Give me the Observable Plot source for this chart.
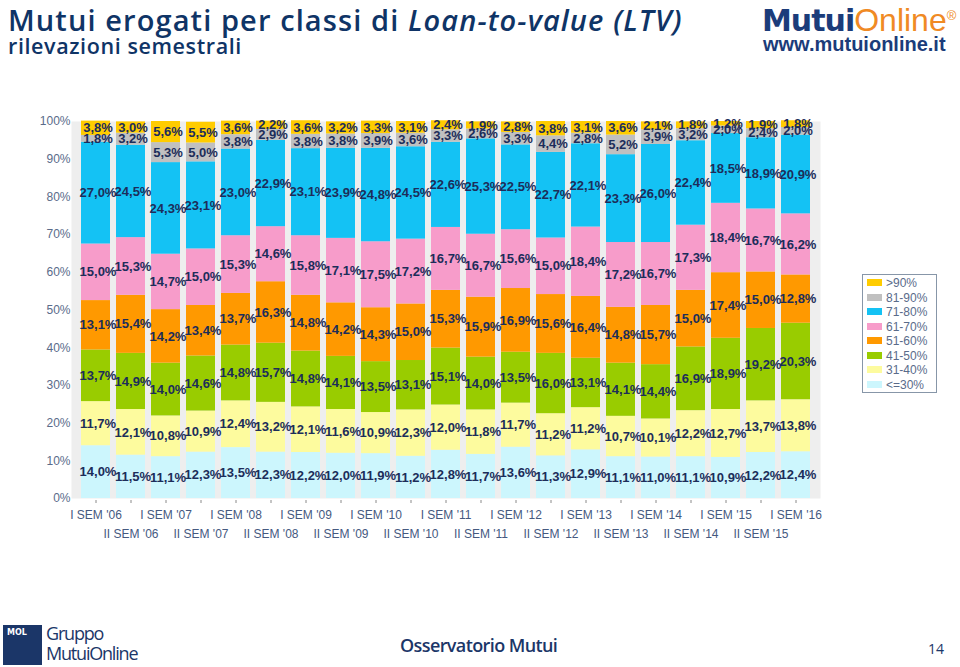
<!DOCTYPE html>
<html>
<head>
<meta charset="utf-8">
<script src="https://cdn.jsdelivr.net/npm/d3@7"></script>
<script src="https://cdn.jsdelivr.net/npm/@observablehq/plot@0.6"></script>
<style>
  html, body { margin: 0; padding: 0; background: #fff; }
  body { width: 960px; height: 667px; position: relative; overflow: hidden; font-family: "Liberation Sans", Arial, sans-serif; }
  .abs { position: absolute; white-space: nowrap; }
  #title { left: 8px; top: 2px; font-family: "Open Sans", sans-serif; font-weight: 600; font-size: 29px; line-height: 36px; letter-spacing: 1.1px; color: #0f3466; }
  #subtitle { left: 8px; top: 33px; font-family: "Open Sans", sans-serif; font-weight: 600; font-size: 21.5px; line-height: 26px; letter-spacing: 0.6px; color: #0f3466; }
  #logo1 { left: 762px; top: 0px; font-size: 32px; line-height: 40px; }
  #logo1 .m { font-family: "DejaVu Sans", sans-serif; font-weight: bold; color: #1b3c7a; letter-spacing: -1px; font-size: 30px; }
  #logo1 .o { font-family: "Liberation Sans", sans-serif; color: #f08a24; font-size: 32px; }
  #logo1 .r { font-size: 13px; color: #f08a24; vertical-align: top; position: relative; top: -4px; }
  #logo2 { left: 763px; top: 33px; font-family: "Liberation Sans", sans-serif; font-weight: bold; font-size: 20px; line-height: 22px; color: #1b3c7a; }
  #chart { left: 0; top: 100px; }
  #legend { left: 862px; top: 274px; width: 73px; height: 117px; border: 1px solid #8796a8; }
  .li { position: absolute; left: 4px; font-size: 12px; line-height: 14px; color: #5a6b8a; }
  .sw { display: inline-block; width: 15px; height: 7px; margin-right: 4px; vertical-align: 1px; }
  #mol { left: 3px; top: 625px; width: 39px; height: 40px; background: #1b3668; }
  #mol span { position: absolute; left: 4px; top: 3px; color: #fff; font-family: "DejaVu Sans", sans-serif; font-weight: bold; font-size: 8px; }
  #gruppo { left: 46px; top: 623px; font-family: "Open Sans", sans-serif; font-size: 18px; line-height: 20px; color: #1b3668; letter-spacing: -1.2px; }
  #osserv { left: 400px; top: 633px; font-family: "Open Sans", sans-serif; font-weight: 600; font-size: 18px; line-height: 24px; letter-spacing: -0.6px; color: #1b3668; }
  #page { left: 928px; top: 640px; font-family: "Open Sans", sans-serif; font-size: 14px; line-height: 18px; color: #1b3668; }
</style>
</head>
<body>
<div id="title" class="abs">Mutui erogati per classi di <i>Loan-to-value (LTV)</i></div>
<div id="subtitle" class="abs">rilevazioni semestrali</div>
<div id="logo1" class="abs"><span class="m">Mutui</span><span class="o">Online</span><span class="r">®</span></div>
<div id="logo2" class="abs">www.mutuionline.it</div>
<div id="chart" class="abs"></div>
<div id="legend" class="abs"></div>
<div id="mol" class="abs"><span>MOL</span></div>
<div id="gruppo" class="abs">Gruppo<br>MutuiOnline</div>
<div id="osserv" class="abs">Osservatorio Mutui</div>
<div id="page" class="abs">14</div>
<script>
// Semesters (x categories)
const semesters = ["I SEM '06","II SEM '06","I SEM '07","II SEM '07","I SEM '08","II SEM '08","I SEM '09","II SEM '09","I SEM '10","II SEM '10","I SEM '11","II SEM '11","I SEM '12","II SEM '12","I SEM '13","II SEM '13","I SEM '14","II SEM '14","I SEM '15","II SEM '15","I SEM '16"];
// LTV classes, bottom to top
const classes = ["<=30%","31-40%","41-50%","51-60%","61-70%","71-80%","81-90%",">90%"];
const classColors = ["#ccf6fd","#fdfb9e","#99cc00","#ff9900","#f79cca","#14c2f4","#c0c0c0","#ffcc00"];
// Series values (%)
const ltv30  = [14.0,11.5,11.1,12.3,13.5,12.3,12.2,12.0,11.9,11.2,12.8,11.7,13.6,11.3,12.9,11.1,11.0,11.1,10.9,12.2,12.4];
const ltv40  = [11.7,12.1,10.8,10.9,12.4,13.2,12.1,11.6,10.9,12.3,12.0,11.8,11.7,11.2,11.2,10.7,10.1,12.2,12.7,13.7,13.8];
const ltv50  = [13.7,14.9,14.0,14.6,14.8,15.7,14.8,14.1,13.5,13.1,15.1,14.0,13.5,16.0,13.1,14.1,14.4,16.9,18.9,19.2,20.3];
const ltv60  = [13.1,15.4,14.2,13.4,13.7,16.3,14.8,14.2,14.3,15.0,15.3,15.9,16.9,15.6,16.4,14.8,15.7,15.0,17.4,15.0,12.8];
const ltv70  = [15.0,15.3,14.7,15.0,15.3,14.6,15.8,17.1,17.5,17.2,16.7,16.7,15.6,15.0,18.4,17.2,16.7,17.3,18.4,16.7,16.2];
const ltv80  = [27.0,24.5,24.3,23.1,23.0,22.9,23.1,23.9,24.8,24.5,22.6,25.3,22.5,22.7,22.1,23.3,26.0,22.4,18.5,18.9,20.9];
const ltv90  = [1.8,3.2,5.3,5.0,3.8,2.9,3.8,3.8,3.9,3.6,3.3,2.6,3.3,4.4,2.8,5.2,3.9,3.2,2.0,2.4,2.0];
const ltv100 = [3.8,3.0,5.6,5.5,3.6,2.2,3.6,3.2,3.3,3.1,2.4,1.9,2.8,3.8,3.1,3.6,2.1,1.8,1.2,1.9,1.8];
const yTicks = [0,10,20,30,40,50,60,70,80,90,100];

const series = [ltv30, ltv40, ltv50, ltv60, ltv70, ltv80, ltv90, ltv100];
const rows = [];
semesters.forEach((s, i) => {
  classes.forEach((c, k) => rows.push({sem: s, cls: c, value: series[k][i]}));
});
const fmt = v => v.toFixed(1).replace(".", ",") + "%";
const isem = semesters.filter((d, i) => i % 2 === 0);
const iisem = semesters.filter((d, i) => i % 2 === 1);

const chart = Plot.plot({
  width: 860, height: 450,
  marginTop: 21, marginBottom: 52, marginLeft: 71, marginRight: 40,
  style: {fontFamily: "'Liberation Sans', Arial, sans-serif", background: "transparent", overflow: "visible"},
  x: {domain: semesters, padding: 0.185, label: null},
  y: {domain: [0, 100], label: null},
  color: {domain: classes, range: classColors},
  marks: [
    Plot.frame({fill: "#eeeeee", stroke: "none"}),
    Plot.barY(rows, {x: "sem", y: "value", fill: "cls", z: "cls"}),
    Plot.text(rows, Plot.stackY({x: "sem", y: "value", z: "cls", text: d => fmt(d.value),
      fill: "#1c2d5a", fontWeight: "bold", fontSize: 13, dx: 2})),
    Plot.axisY(yTicks, {tickSize: 0, tickPadding: 1, tickFormat: d => d + "%", fill: "#5a6b8a", fontSize: 12}),
    Plot.axisX({tickSize: 3, tickFormat: () => "", stroke: "#8a8a8a", dy: 2}),
    Plot.axisX(isem, {tickSize: 0, tickPadding: 12, fill: "#45597f", fontSize: 12}),
    Plot.axisX(iisem, {tickSize: 0, tickPadding: 31, fill: "#45597f", fontSize: 12})
  ]
});
document.getElementById("chart").appendChild(chart);

// Legend (top to bottom)
const legend = document.getElementById("legend");
classes.slice().reverse().forEach((c, i) => {
  const col = classColors[classes.indexOf(c)];
  const d = document.createElement("div");
  d.className = "li";
  d.style.top = (1 + i * 14.5) + "px";
  d.innerHTML = `<span class="sw" style="background:${col}"></span>` + c.replace("<", "&lt;").replace(">", "&gt;");
  legend.appendChild(d);
});
</script>
</body>
</html>
